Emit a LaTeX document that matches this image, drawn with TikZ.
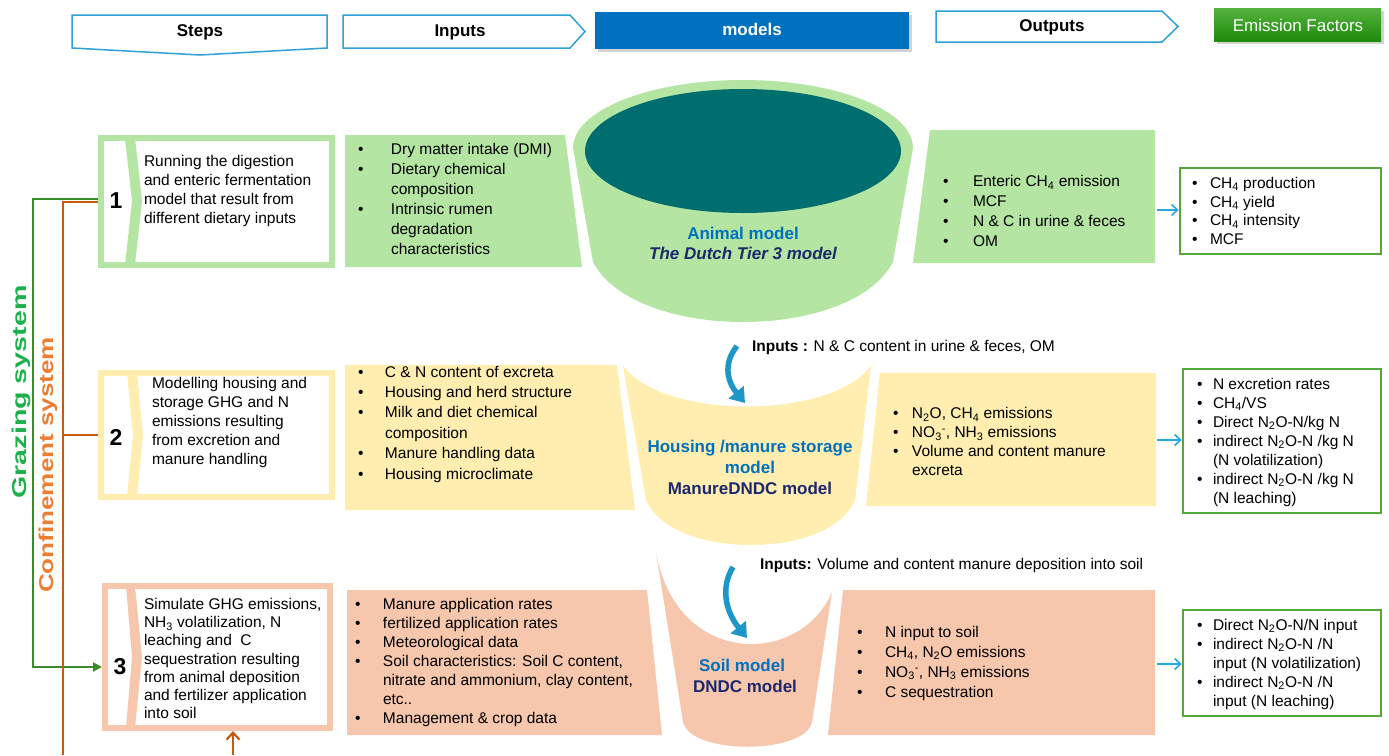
\documentclass[tikz,border=0pt]{standalone}
\usepackage{fontspec}
\setmainfont{Liberation Sans}
\usetikzlibrary{arrows.meta,shadows}
\definecolor{grnF}{RGB}{181,229,163}
\definecolor{yelF}{RGB}{255,238,176}
\definecolor{salF}{RGB}{246,199,172}
\definecolor{tealD}{RGB}{0,110,111}
\definecolor{efG}{RGB}{84,168,56}
\definecolor{arrB}{RGB}{41,168,224}
\definecolor{hdrB}{RGB}{46,160,218}
\definecolor{modB}{RGB}{0,112,192}
\definecolor{navyT}{RGB}{28,40,110}
\definecolor{grzL}{RGB}{58,140,40}
\definecolor{grzT}{RGB}{30,176,75}
\definecolor{cnfL}{RGB}{197,90,17}
\definecolor{cnfT}{RGB}{237,125,49}
\definecolor{funA}{RGB}{30,150,200}
\definecolor{efTop}{RGB}{84,178,60}
\definecolor{efBot}{RGB}{30,140,12}
\newcommand\bul[1]{\makebox[#1pt][l]{\textbullet}}
\begin{document}
\begin{tikzpicture}[x=1pt,y=-1pt,
  every node/.style={inner sep=0pt,outer sep=0pt},
  body/.style={font=\fontsize{15.5}{#1}\selectfont,align=left,anchor=west},
  stepbox/.style={draw=#1,line width=6pt,fill=white,outer sep=3pt},
  numtxt/.style={font=\fontsize{23}{23}\selectfont\bfseries},
  efbox/.style={draw=efG,line width=2.5pt,fill=white,outer sep=1.25pt},
  hdr/.style={draw=hdrB,line width=1.5pt,fill=white},
  hdrtxt/.style={font=\fontsize{17}{17}\selectfont\bfseries},
  lbl/.style={font=\fontsize{17}{21}\selectfont\bfseries,align=center},
  grz/.style={draw=grzL,line width=2pt},
  cnf/.style={draw=cnfL,line width=2.2pt},
  bar/.style={draw=arrB,line width=1.6pt,-{Straight Barb[length=6pt,width=11pt]}},
  funarrow/.style={draw=funA,line width=5.5pt,-{Triangle[length=14pt,width=19pt]}}
]
\useasboundingbox (0,0) rectangle (1389,755);

% ---------- header row ----------
\draw[hdr] (72,15) -- (327,15) -- (327,48) -- (200,55) -- (72,48) -- cycle;
\node[hdrtxt] (hs) at (200,32) {Steps};
\draw[hdr] (343,15) -- (570,15) -- (585,31.5) -- (570,48) -- (343,48) -- cycle;
\node[hdrtxt] (hi) at (460,32) {Inputs};
\node[fill=modB,minimum width=314pt,minimum height=37pt,drop shadow={opacity=0.35}] (hm) at (752,30.5) {};
\node[hdrtxt,text=white] (hmt) at (752,29) {models};
\draw[hdr] (936,11) -- (1162,11) -- (1178,26.5) -- (1162,42) -- (936,42) -- cycle;
\node[hdrtxt] (ho) at (1052,27) {Outputs};
\node[top color=efTop,bottom color=efBot,minimum width=167pt,minimum height=33pt,drop shadow={opacity=0.35}] (he) at (1297.5,24.5) {};
\node[font=\fontsize{17}{17}\selectfont,text=white] (het) at (1298,25) {Emission Factors};

% ---------- funnel ----------
\fill[grnF] (573,148) arc[start angle=180,end angle=0,x radius=170pt,y radius=68pt]
  -- (893,262) .. controls (851,342) and (635,342) .. (593,262) -- cycle;
\fill[tealD] (743,151) ellipse [x radius=158pt,y radius=62pt];
\fill[yelF] (623,366) -- (646,500) .. controls (672,560) and (830,560) .. (855,500)
  -- (871,366) .. controls (830,420) and (664,420) .. cycle;
\fill[salF] (656,552) -- (683,722) .. controls (690,755) and (805,755) .. (812,722)
  -- (832,592) .. controls (800,667) and (676,667) .. cycle;

\node[lbl,text=modB] (am) at (743,233) {Animal model};
\node[lbl,text=navyT,font=\fontsize{17}{21}\selectfont\bfseries\itshape] (dt) at (743,253) {The Dutch Tier 3 model};
\node[lbl,text=modB] (hm1) at (750,456.5) {Housing /manure storage\\model};
\node[lbl,text=navyT] (hm2) at (750,488) {ManureDNDC model};
\node[lbl,text=modB] (sm1) at (742,665) {Soil model};
\node[lbl,text=navyT] (sm2) at (745,686) {DNDC model};

\coordinate (a1s) at (737,346);
\coordinate (a1e) at (745,403);
\draw[funarrow] (a1s) .. controls (724,362) and (726,380) .. (a1e);
\coordinate (a2s) at (733,567);
\coordinate (a2e) at (747,638);
\draw[funarrow] (a2s) .. controls (720,588) and (726,612) .. (a2e);

\node[body=19] (in1) at (752,347) {\textbf{Inputs :} N \& C content in urine \& feces, OM};
\node[body=19] (in2) at (760,565) {\textbf{Inputs:} Volume and content manure deposition into soil};

% ---------- input / output boxes ----------
\fill[grnF] (345,135) -- (565,135) -- (582,267) -- (345,267) -- cycle;
\fill[grnF] (930,130) -- (1155,130) -- (1155,263) -- (913,263) -- cycle;
\fill[yelF] (345,365) -- (617,365) -- (635,510) -- (345,510) -- cycle;
\fill[yelF] (880,373) -- (1156,373) -- (1156,506) -- (866,506) -- cycle;
\fill[salF] (347,590) -- (647,590) -- (662,735) -- (347,735) -- cycle;
\fill[salF] (843,590) -- (1155,590) -- (1155,735) -- (828,735) -- cycle;

\node[body=20] (gi) at (358,199) {\bul{33}Dry matter intake (DMI)\\
\bul{33}Dietary chemical\\
\hspace*{33pt}composition\\
\bul{33}Intrinsic rumen\\
\hspace*{33pt}degradation\\
\hspace*{33pt}characteristics};
\node[body=20] (go) at (943,211) {\bul{30}Enteric CH\textsubscript{4} emission\\
\bul{30}MCF\\
\bul{30}N \& C in urine \& feces\\
\bul{30}OM};
\node[body=20.4] (yi) at (358,424) {\bul{27}C \& N content of excreta\\
\bul{27}Housing and herd structure\\
\bul{27}Milk and diet chemical\\
\hspace*{27pt}composition\\
\bul{27}Manure handling data\\
\bul{27}Housing microclimate};
\node[body=19] (yo) at (893,441.5) {\bul{19}N\textsubscript{2}O, CH\textsubscript{4} emissions\\
\bul{19}NO\textsubscript{3}\textsuperscript{-}, NH\textsubscript{3} emissions\\
\bul{19}Volume and content manure\\
\hspace*{19pt}excreta};
\node[body=19] (si) at (355,662) {\bul{28}Manure application rates\\
\bul{28}fertilized application rates\\
\bul{28}Meteorological data\\
\bul{28}Soil characteristics: Soil C content,\\
\hspace*{28pt}nitrate and ammonium, clay content,\\
\hspace*{28pt}etc..\\
\bul{28}Management \& crop data};
\node[body=20] (so) at (857,663) {\bul{28}N input to soil\\
\bul{28}CH\textsubscript{4}, N\textsubscript{2}O emissions\\
\bul{28}NO\textsubscript{3}\textsuperscript{-}, NH\textsubscript{3} emissions\\
\bul{28}C sequestration};

% ---------- emission factor boxes ----------
\node[efbox,minimum width=201pt,minimum height=86pt] (ef1) at (1280.5,211) {};
\node[efbox,minimum width=198pt,minimum height=144pt] (ef2) at (1282,441) {};
\node[efbox,minimum width=198pt,minimum height=106pt] (ef3) at (1282,663) {};
\node[body=18.8] (ef1t) at (1192,211) {\bul{18}CH\textsubscript{4} production\\
\bul{18}CH\textsubscript{4} yield\\
\bul{18}CH\textsubscript{4} intensity\\
\bul{18}MCF};
\node[body=19] (ef2t) at (1197,442) {\bul{16}N excretion rates\\
\bul{16}CH\textsubscript{4}/VS\\
\bul{16}Direct N\textsubscript{2}O-N/kg N\\
\bul{16}indirect N\textsubscript{2}O-N /kg N\\
\hspace*{16pt}(N volatilization)\\
\bul{16}indirect N\textsubscript{2}O-N /kg N\\
\hspace*{16pt}(N leaching)};
\node[body=19] (ef3t) at (1197,664) {\bul{16}Direct N\textsubscript{2}O-N/N input\\
\bul{16}indirect N\textsubscript{2}O-N /N\\
\hspace*{16pt}input (N volatilization)\\
\bul{16}indirect N\textsubscript{2}O-N /N\\
\hspace*{16pt}input (N leaching)};

\coordinate (o1r) at (1157,210);
\coordinate (o2r) at (1157,440);
\coordinate (o3r) at (1157,664);
\draw[bar] (o1r) -- (ef1.west |- o1r);
\draw[bar] (o2r) -- (ef2.west |- o2r);
\draw[bar] (o3r) -- (ef3.west |- o3r);

% ---------- step boxes ----------
\node[stepbox=grnF,minimum width=231pt,minimum height=127pt] (s1) at (216.5,201.5) {};
\fill[grnF] (125,138) -- (135,138) -- (142,201) -- (135,265) -- (125,265) -- (132,201) -- cycle;
\node[numtxt] (n1) at (116,201) {1};
\node[body=19] (t1) at (144,190.5) {Running the digestion\\and enteric fermentation\\model that result from\\different dietary inputs};

\node[stepbox=yelF,minimum width=231pt,minimum height=124pt] (s2) at (216.5,435) {};
\fill[yelF] (127,373) -- (137,373) -- (143,435) -- (137,497) -- (127,497) -- (133,435) -- cycle;
\node[numtxt] (n2) at (116,437) {2};
\node[body=18.8] (t2) at (152,422.5) {Modelling housing and\\storage GHG and N\\emissions resulting\\from excretion and\\manure handling};

\node[stepbox=salF,minimum width=225pt,minimum height=142pt] (s3) at (217.5,657) {};
\fill[salF] (126,586) -- (135,586) -- (142,657) -- (135,728) -- (126,728) -- (132,657) -- cycle;
\node[numtxt] (n3) at (120,667) {3};
\node[body=18.3] (t3) at (144,658.5) {Simulate GHG emissions,\\NH\textsubscript{3} volatilization, N\\leaching and\ \ C\\sequestration resulting\\from animal deposition\\and fertilizer application\\into soil};

% ---------- system lines ----------
\coordinate (g1) at (33,199);
\coordinate (g3) at (33,667);
\draw[grz,-{Triangle[length=9pt,width=9pt]}] (s1.west |- g1) -- (g1) -- (g3) -- (s3.west |- g3);
\coordinate (c1) at (63,202);
\coordinate (cb) at (63,755);
\draw[cnf] (s1.west |- c1) -- (c1) -- (cb);
\coordinate (c2) at (63,435);
\draw[cnf] (c2) -- (s2.west);
\coordinate (c3) at (233,755);
\draw[cnf,-{Straight Barb[length=7pt,width=13pt]}] (c3) -- (c3 |- s3.south);

\node[rotate=90,font=\fontsize{20}{20}\selectfont\bfseries,text=grzT] (gs) at (21,392) {\scalebox{1.43}[1]{Grazing system}};
\node[rotate=90,font=\fontsize{20}{20}\selectfont\bfseries,text=cnfT] (cs) at (48,465) {\scalebox{1.3}[1]{Confinement system}};
\end{tikzpicture}
\end{document}
